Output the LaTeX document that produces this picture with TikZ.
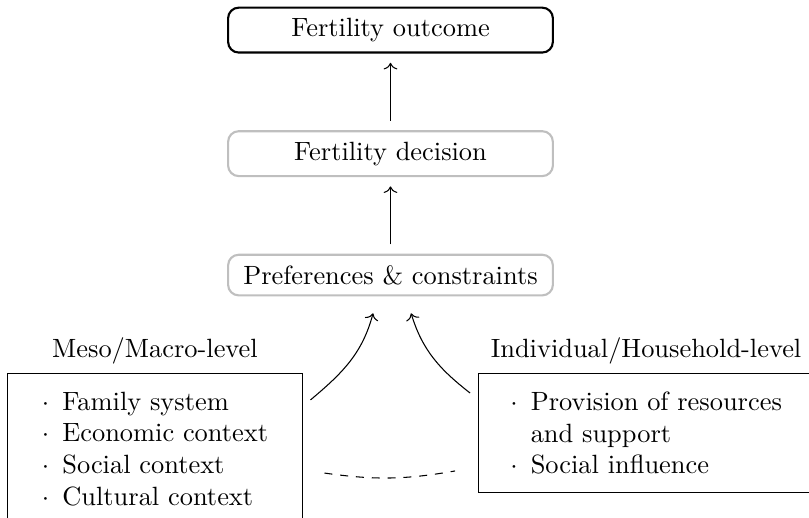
\documentclass[tikz,border=0pt]{standalone}
\usepackage{amsmath,amssymb}
\usepackage{tikz}
\usetikzlibrary{arrows.meta, positioning}

\begin{document}
\begin{tikzpicture}[
  stage/.style={rectangle, draw, rounded corners=4pt, thick, minimum width=123pt,
              inner xsep=4pt, inner ysep=4pt, align=center},
  factors/.style={rectangle, draw, minimum width=112pt, inner xsep=12pt,
              inner ysep=6.9pt, align=left},
  arr/.style={->, shorten >=3.5pt, shorten <=3.5pt},
  node distance=29pt
]
\useasboundingbox (-147.9pt,11.4pt) rectangle (158.5pt,-184.5pt);

\node[stage] (outcome) {Fertility outcome};
\node[stage, draw=black!25, below=of outcome] (decision) {Fertility decision};
\node[stage, draw=black!25, below=of decision] (prefs) {Preferences \& constraints};

\node[factors, below=of prefs, xshift=-89.2pt] (macro)
      {$\cdot$\, Family system\\$\cdot$\, Economic context\\$\cdot$\, Social context\\$\cdot$\, Cultural context};
\node[factors, below=of prefs, xshift=96.8pt] (micro)
      {$\cdot$\, Provision of resources\\\phantom{$\cdot$\,} and support\\$\cdot$\, Social influence};

\node[above=0pt of macro] (macrolbl) {Meso/Macro-level};
\node[above=0pt of micro] (microlbl) {Individual/Household-level};

\draw[arr] (decision) -- (outcome);
\draw[arr] (prefs) -- (decision);
\draw[->] ([xshift=2.7pt, yshift=-10.2pt]macro.north east) to[out=40, in=-105]
      ([xshift=-6.6pt, yshift=-6.4pt]prefs.south);
\draw[->] ([xshift=-3pt, yshift=-7.6pt]micro.north west) to[out=142, in=-73]
      ([xshift=7.8pt, yshift=-6.4pt]prefs.south);
\draw[dashed] ([xshift=8pt, yshift=-37.9pt]macro.north east) to[bend right=9]
      ([xshift=-8.7pt, yshift=-37.1pt]micro.north west);
\end{tikzpicture}
\end{document}
